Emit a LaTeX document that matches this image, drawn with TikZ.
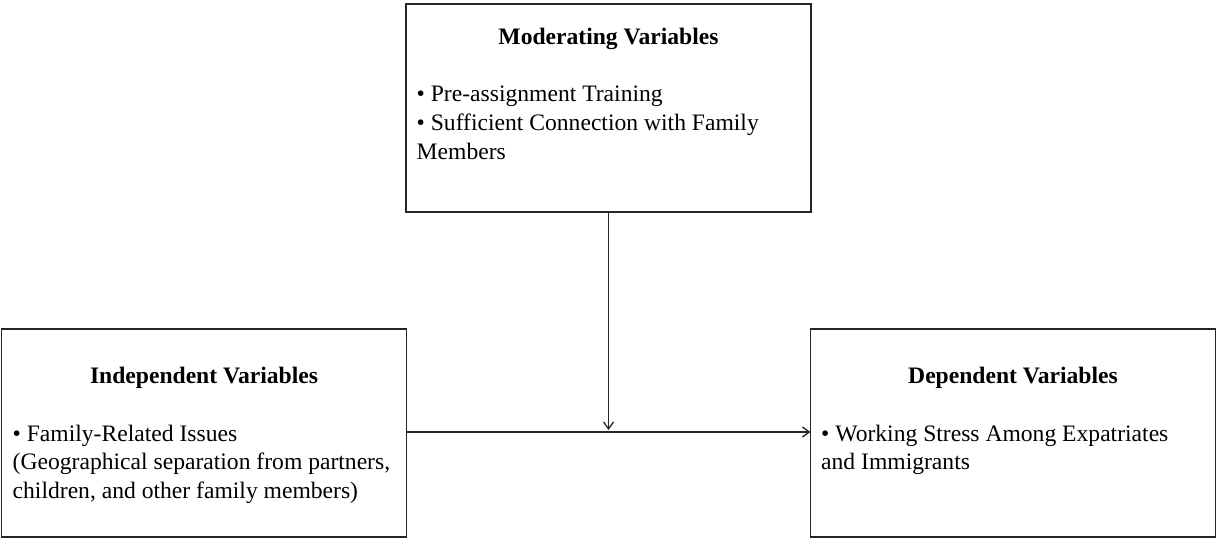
\documentclass[tikz,border=0pt]{standalone}
\usepackage{fontspec}
\setmainfont{Liberation Serif}
\usetikzlibrary{arrows.meta}
\begin{document}
\begin{tikzpicture}[x=1pt,y=-1pt,
  box/.style={draw=black!85, line width=1.3pt, rectangle, inner sep=0pt, outer sep=0pt,
    minimum width=405pt, minimum height=208pt},
  ttl/.style={font=\fontsize{23.6}{29}\selectfont\bfseries, inner sep=0pt, anchor=base},
  txt/.style={font=\fontsize{23.6}{29}\selectfont, inner sep=0pt, anchor=base west},
  arr/.style={draw=black!85, line width=1.3pt, -{Straight Barb[length=7pt,width=10pt,line width=1.3pt]}}]
\useasboundingbox (0,0) rectangle (1216,538);
% boxes
\node[box] (mod) at (608.5,108) {};
\node[box] (ind) at (204,433) {};
\node[box] (dep) at (1013,433) {};
% moderating
\node[ttl] (modt) at (608.5,44) {Moderating Variables};
\node[txt] (mod1) at (416.5,101) {• Pre-assignment Training};
\node[txt] (mod2) at (416.5,130) {• Sufficient Connection with Family};
\node[txt] (mod3) at (416.5,159) {Members};
% independent
\node[ttl] (indt) at (204,383.5) {Independent Variables};
\node[txt] (ind1) at (12.5,441) {• Family-Related Issues};
\node[txt] (ind2) at (12.5,469.5) {(Geographical separation from partners,};
\node[txt] (ind3) at (12.5,498) {children, and other family members)};
% dependent
\node[ttl] (dept) at (1013,383.5) {Dependent Variables};
\node[txt] (dep1) at (821,441) {• Working Stress Among Expatriates};
\node[txt] (dep2) at (821,469.5) {and Immigrants};
% connectors
\coordinate (meet) at (608.5,430);
\draw[arr] (ind.east |- 0,432) -- (dep.west |- 0,432);
\draw[arr] (mod.south) -- (meet);
\end{tikzpicture}
\end{document}
